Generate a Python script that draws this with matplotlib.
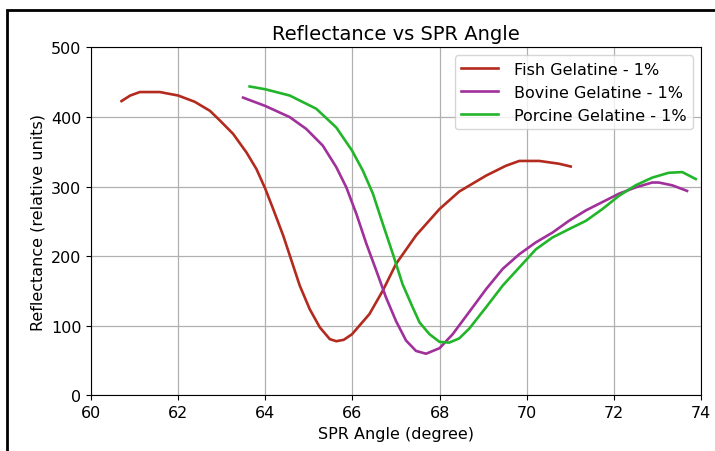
import matplotlib
matplotlib.use("Agg")
import matplotlib.pyplot as plt
from matplotlib.patches import Rectangle

# data
fish_angle = [60.70, 60.9, 61.12, 61.58, 62.0, 62.38, 62.73, 62.96, 63.26, 63.57, 63.80,
              64.0, 64.18, 64.41, 64.60, 64.79, 65.02, 65.25, 65.48, 65.63, 65.80,
              65.99, 66.39, 66.70, 67.0, 67.46, 68.0, 68.45, 69.07, 69.52, 69.83,
              70.29, 70.74, 71.01]
fish_refl = [423, 431, 436, 436, 431, 422, 409, 395, 376, 349, 325,
             297, 268, 230, 194, 158, 124, 98, 81, 78, 80,
             88, 117, 151, 189, 230, 268, 293, 316, 330, 337,
             337, 333, 329]

bovine_angle = [63.49, 64.0, 64.56, 64.94, 65.32, 65.63, 65.86, 66.09, 66.32, 66.55,
                66.77, 67.0, 67.23, 67.46, 67.69, 68.0, 68.30, 68.68, 69.07, 69.45,
                69.83, 70.21, 70.59, 70.97, 71.36, 71.74, 72.12, 72.50, 72.88, 73.03,
                73.34, 73.68]
bovine_refl = [428, 416, 400, 383, 359, 328, 299, 261, 218, 179,
               141, 107, 79, 64, 60, 68, 88, 120, 153, 182,
               203, 220, 234, 251, 266, 278, 290, 299, 306, 306,
               302, 294]

porcine_angle = [63.64, 64.0, 64.56, 65.17, 65.63, 65.99, 66.24, 66.47, 66.70, 66.93,
                 67.15, 67.38, 67.54, 67.77, 68.0, 68.22, 68.45, 68.68, 69.07, 69.45,
                 69.83, 70.21, 70.59, 70.97, 71.36, 71.74, 72.12, 72.50, 72.88, 73.26,
                 73.57, 73.88]
porcine_refl = [444, 440, 431, 412, 385, 352, 323, 290, 246, 203,
                160, 127, 105, 88, 77, 76, 82, 96, 127, 158,
                184, 210, 227, 239, 251, 268, 287, 302, 313, 320,
                321, 311]

labels = ["Fish Gelatine - 1%", "Bovine Gelatine - 1%", "Porcine Gelatine - 1%"]
colors = ["#b32a1e", "#a0309a", "#22b52a"]

fig = plt.figure(figsize=(7.15, 4.52), dpi=100)
ax = fig.add_axes([0.1273, 0.1228, 0.8531, 0.7699])

# rahmen um die grafik (wie im screenshot)
fig.patches.append(Rectangle((7 / 715, -0.1), 1.2, (452 - 11) / 452 + 0.1,
                             transform=fig.transFigure, fill=False,
                             edgecolor="black", linewidth=2))

ax.plot(fish_angle, fish_refl, color=colors[0], linewidth=1.9, label=labels[0])
ax.plot(bovine_angle, bovine_refl, color=colors[1], linewidth=1.9, label=labels[1])
ax.plot(porcine_angle, porcine_refl, color=colors[2], linewidth=1.9, label=labels[2])

ax.set_xlim(60, 74)
ax.set_ylim(0, 500)
ax.set_xticks(range(60, 75, 2))
ax.set_yticks(range(0, 501, 100))
ax.grid(True, color="#b0b0b0", linewidth=0.9)
ax.set_axisbelow(True)
ax.tick_params(labelsize=11.5)

ax.set_title("Reflectance vs SPR Angle", fontsize=14)
ax.set_xlabel("SPR Angle (degree)", fontsize=11.5)
ax.set_ylabel("Reflectance (relative units)", fontsize=11.5)
ax.legend(loc="upper right", fontsize=11.5, handlelength=2.3, handletextpad=1.0)

fig.savefig("out.png", dpi=100)
